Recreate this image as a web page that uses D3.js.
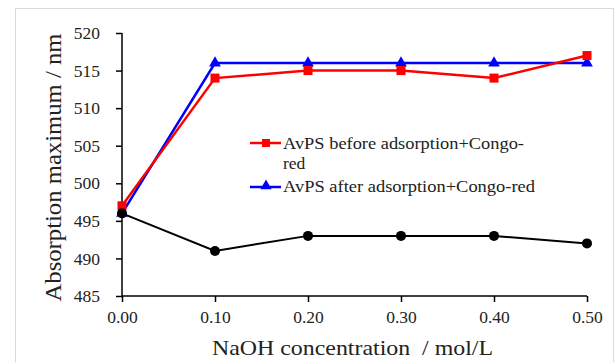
<!DOCTYPE html>
<html><head><meta charset="utf-8">
<script src="https://cdn.jsdelivr.net/npm/d3@7"></script>
<style>
html,body{margin:0;padding:0;background:#fff;}
svg{display:block;}
svg text{font-family:'Liberation Serif','Times New Roman',Tinos,'DejaVu Serif',serif !important;}
</style></head>
<body>
<script>
const xValues = [0.00, 0.10, 0.20, 0.30, 0.40, 0.50];
const redValues = [497, 514, 515, 515, 514, 517];
const blueValues = [496, 516, 516, 516, 516, 516];
const blackValues = [496, 491, 493, 493, 493, 492];
const xTicks = [0, 0.1, 0.2, 0.3, 0.4, 0.5];
const yTicks = [485, 490, 495, 500, 505, 510, 515, 520];
const redName = ["AvPS before adsorption+Congo-", "red"];
const blueName = "AvPS after adsorption+Congo-red";
const xTitle = "NaOH concentration  / mol/L";
const yTitle = "Absorption maximum / nm";

const W = 616, H = 362;
const svg = d3.select("body").append("svg").attr("width", W).attr("height", H);

svg.append("rect").attr("x", 15.5).attr("y", 8.5).attr("width", 598).attr("height", 360)
  .attr("fill", "none").attr("stroke", "#d9d9d9").attr("stroke-width", 1);

const x = d3.scaleLinear().domain([0, 0.5]).range([122, 587]);
const y = d3.scaleLinear().domain([485, 520]).range([296, 33]);

const yAxis = svg.append("g").attr("transform", "translate(122,0)")
  .call(d3.axisLeft(y).tickValues(yTicks).tickFormat(d3.format("d")).tickSize(6).tickPadding(16));
const xAxis = svg.append("g").attr("transform", "translate(0,296)")
  .call(d3.axisBottom(x).tickValues(xTicks).tickFormat(d3.format(".2f")).tickSize(6).tickPadding(8));
[xAxis, yAxis].forEach(g => {
  g.attr("font-family", null);
  g.select(".domain").attr("stroke", "#000").attr("stroke-width", 1.5);
  g.selectAll(".tick line").attr("stroke", "#000").attr("stroke-width", 1.5);
  g.selectAll(".tick text").attr("fill", "#222").style("font-size", "17.5px");
});
xAxis.selectAll(".tick text").attr("y", 27).attr("dy", 0);
xAxis.select(".domain").attr("d", "M122,0H587");
yAxis.select(".domain").attr("d", "M0,33V296");

const line = vals => d3.line().x((d, i) => x(xValues[i])).y(d => y(d))(vals);

// blue
svg.append("path").attr("d", line(blueValues)).attr("fill", "none").attr("stroke", "#0000ff").attr("stroke-width", 2.5);
svg.append("g").selectAll("path").data(blueValues).join("path")
  .attr("d", d3.symbol(d3.symbolTriangle, 60)())
  .attr("transform", (d, i) => `translate(${x(xValues[i])},${y(d)})`).attr("fill", "#0000ff");
// red
svg.append("path").attr("d", line(redValues)).attr("fill", "none").attr("stroke", "#ff0000").attr("stroke-width", 2.5);
svg.append("g").selectAll("rect").data(redValues).join("rect")
  .attr("x", (d, i) => x(xValues[i]) - 4.5).attr("y", d => y(d) - 4.5)
  .attr("width", 9).attr("height", 9).attr("fill", "#ff0000");
// black
svg.append("path").attr("d", line(blackValues)).attr("fill", "none").attr("stroke", "#000").attr("stroke-width", 2);
svg.append("g").selectAll("circle").data(blackValues).join("circle")
  .attr("cx", (d, i) => x(xValues[i])).attr("cy", d => y(d)).attr("r", 5).attr("fill", "#000");

// legend
const lg = svg.append("g");
lg.append("line").attr("x1", 250).attr("x2", 281).attr("y1", 143).attr("y2", 143).attr("stroke", "#ff0000").attr("stroke-width", 2.5);
lg.append("rect").attr("x", 262).attr("y", 139).attr("width", 8).attr("height", 8).attr("fill", "#ff0000");
lg.append("text").attr("x", 283).attr("y", 149).style("font-size", "17.5px").attr("fill", "#222")
  .attr("textLength", 241).attr("lengthAdjust", "spacingAndGlyphs").text(redName[0]);
lg.append("text").attr("x", 283).attr("y", 169).style("font-size", "17.5px").attr("fill", "#222").text(redName[1]);
lg.append("line").attr("x1", 250).attr("x2", 281).attr("y1", 187).attr("y2", 187).attr("stroke", "#0000ff").attr("stroke-width", 2.5);
lg.append("path").attr("d", d3.symbol(d3.symbolTriangle, 55)()).attr("transform", "translate(266,186)").attr("fill", "#0000ff");
lg.append("text").attr("x", 283).attr("y", 192).style("font-size", "17.5px").attr("fill", "#222")
  .attr("textLength", 252).attr("lengthAdjust", "spacingAndGlyphs").text(blueName);

svg.append("text").attr("x", 352.5).attr("y", 355).attr("text-anchor", "middle")
  .style("font-size", "22px").attr("fill", "#222").attr("xml:space", "preserve")
  .attr("textLength", 281).attr("lengthAdjust", "spacingAndGlyphs").text(xTitle);
svg.append("text").attr("transform", "translate(61,167.5) rotate(-90)").attr("text-anchor", "middle")
  .style("font-size", "23px").attr("fill", "#222")
  .attr("textLength", 268).attr("lengthAdjust", "spacingAndGlyphs").text(yTitle);
</script>
</body></html>
